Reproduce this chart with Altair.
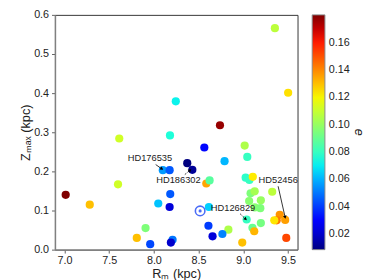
import altair as alt
import pandas as pd
import numpy as np
import math

# ---------------- data ----------------
R = [7.014, 7.283, 7.613, 7.599, 7.809, 7.907, 7.959, 8.049, 8.100, 8.176,
     8.183, 8.176, 8.209, 8.190, 8.245, 8.180, 8.564, 8.373, 8.430, 8.586,
     8.623, 8.739, 9.015, 9.044, 8.790, 9.026, 9.068, 9.106, 9.081, 9.127,
     9.323, 9.065, 9.196, 9.127, 9.190, 8.615, 9.037, 9.196, 9.102, 9.122,
     8.833, 8.610, 8.766, 8.656, 8.988, 9.480, 9.407, 9.373, 9.346, 9.468,
     9.353, 9.501]
Z = [0.140, 0.115, 0.284, 0.167, 0.030, 0.055, 0.014, 0.118, 0.203, 0.203,
     0.142, 0.109, 0.025, 0.018, 0.379, 0.292, 0.261, 0.221, 0.204, 0.169,
     0.177, 0.318, 0.266, 0.237, 0.226, 0.184, 0.178, 0.186, 0.144, 0.149,
     0.148, 0.124, 0.126, 0.108, 0.106, 0.109, 0.077, 0.068, 0.056, 0.047,
     0.051, 0.061, 0.040, 0.034, 0.018, 0.030, 0.089, 0.075, 0.075, 0.076,
     0.566, 0.401]
E = [0.1804, 0.130, 0.112, 0.112, 0.130, 0.095, 0.042, 0.063, 0.056, 0.045,
     0.045, 0.022, 0.050, 0.020, 0.071, 0.075, 0.031, 0.0086, 0.012, 0.135,
     0.087, 0.177, 0.105, 0.080, 0.061, 0.078, 0.080, 0.122, 0.095, 0.103,
     0.108, 0.097, 0.100, 0.097, 0.095, 0.065, 0.080, 0.093, 0.090, 0.132,
     0.105, 0.040, 0.052, 0.022, 0.130, 0.152, 0.138, 0.143, 0.123, 0.136,
     0.108, 0.124]

labels = ["HD176535", "HD186302", "HD126829", "HD52456"]
label_x = [7.708, 8.027, 8.637, 9.171]
label_y = [0.2336, 0.177, 0.106, 0.178]
arrow_x1 = [8.020, 8.346, 8.964, 9.389]
arrow_y1 = [0.2175, 0.192, 0.0917, 0.162]
arrow_x2 = [8.085, 8.400, 9.022, 9.466]
arrow_y2 = [0.207, 0.202, 0.079, 0.084]
arrow_dashed = [False, True, True, False]

sun_R = [8.517]
sun_Z = [0.099]

cbar_ticks = [0.02, 0.04, 0.06, 0.08, 0.10, 0.12, 0.14, 0.16]
x_ticks = [7.0, 7.5, 8.0, 8.5, 9.0, 9.5]
y_ticks = [0.0, 0.1, 0.2, 0.3, 0.4, 0.5, 0.6]

# ---------------- styling helpers ----------------
X_DOM = [6.894, 9.606]
Y_DOM = [0.0, 0.6]
W, H = 248, 240
E_MIN, E_MAX = 0.0086, 0.1804

stops = [0, 0.11, 0.125, 0.34, 0.35, 0.375, 0.64, 0.65, 0.66, 0.89, 0.91, 1.0]

def jet(t):
    r = np.interp(t, [0, 0.35, 0.66, 0.89, 1], [0, 0, 1, 1, 0.5])
    g = np.interp(t, [0, 0.125, 0.375, 0.64, 0.91, 1], [0, 0, 1, 1, 0, 0])
    b = np.interp(t, [0, 0.11, 0.34, 0.65, 1], [0.5, 1, 1, 0, 0])
    return "#%02x%02x%02x" % tuple(int(round(v * 255)) for v in (r, g, b))

c_dom = [E_MIN + s * (E_MAX - E_MIN) for s in stops]
c_rng = [jet(s) for s in stops]

df = pd.DataFrame({"R": R, "Z": Z, "e": E})

sx = W / (X_DOM[1] - X_DOM[0])
sy = H / (Y_DOM[1] - Y_DOM[0])
angles = []
for a, b, c, d in zip(arrow_x1, arrow_y1, arrow_x2, arrow_y2):
    dx = (c - a) * sx
    dy = -(d - b) * sy
    angles.append(math.degrees(math.atan2(dx, -dy)) % 360)

ann = pd.DataFrame({
    "label": labels, "lx": label_x, "ly": label_y,
    "x1": arrow_x1, "y1": arrow_y1, "x2": arrow_x2, "y2": arrow_y2,
    "dashed": arrow_dashed, "ang": angles,
})
sun = pd.DataFrame({"R": sun_R, "Z": sun_Z})

FONT = "Liberation Sans"

xs = alt.Scale(domain=X_DOM, nice=False, zero=False)
ys = alt.Scale(domain=Y_DOM, nice=False, zero=False)

points = alt.Chart(df).mark_circle(size=70, opacity=1).encode(
    x=alt.X("R:Q", scale=xs,
            axis=alt.Axis(values=x_ticks, format=".1f", title="Rₘ (kpc)",
                          titlePadding=2, labelPadding=2, tickSize=3.5,
                          tickCount=20, labelOverlap=False)),
    y=alt.Y("Z:Q", scale=ys,
            axis=alt.Axis(values=y_ticks, format=".1f", title="Zₘₐₓ (kpc)",
                          titleX=-23, labelPadding=3, tickSize=3.5,
                          tickCount=20, labelOverlap=False)),
    color=alt.Color("e:Q",
                    scale=alt.Scale(domain=c_dom, range=c_rng, interpolate="rgb"),
                    legend=alt.Legend(
                        orient="none", legendX=263, legendY=0,
                        direction="vertical",
                        gradientLength=H, gradientThickness=13,
                        gradientStrokeColor="#888", gradientStrokeWidth=1,
                        values=cbar_ticks, format=".2f", labelOverlap=False,
                        tickCount=20,
                        title="e", titleOrient="right", titleFontStyle="italic",
                        titleFontWeight="normal", titleFontSize=13, titleFont=FONT,
                        titlePadding=3, titleColor="#222",
                        labelFont=FONT, labelFontSize=11, labelColor="#222",
                        labelOffset=4)),
)

text = alt.Chart(ann).mark_text(
    align="left", baseline="middle", font=FONT, fontSize=9.5, color="#222"
).encode(x=alt.X("lx:Q", scale=xs), y=alt.Y("ly:Q", scale=ys), text="label:N")

shaft_solid = alt.Chart(ann).transform_filter("!datum.dashed").mark_rule(
    color="black", strokeWidth=0.8
).encode(x=alt.X("x1:Q", scale=xs), y=alt.Y("y1:Q", scale=ys), x2="x2:Q", y2="y2:Q")

shaft_dash = alt.Chart(ann).transform_filter("datum.dashed").mark_rule(
    color="black", strokeWidth=0.8, strokeDash=[2, 1.5]
).encode(x=alt.X("x1:Q", scale=xs), y=alt.Y("y1:Q", scale=ys), x2="x2:Q", y2="y2:Q")

heads = alt.Chart(ann).mark_point(
    shape="triangle", filled=True, size=14, color="black", opacity=1
).encode(x=alt.X("x2:Q", scale=xs), y=alt.Y("y2:Q", scale=ys),
         angle=alt.Angle("ang:Q", scale=None))

sun_ring = alt.Chart(sun).mark_point(
    shape="circle", filled=False, size=95, color="#4a6cf7", strokeWidth=1.6, opacity=1
).encode(x=alt.X("R:Q", scale=xs), y=alt.Y("Z:Q", scale=ys))

sun_dot = alt.Chart(sun).mark_circle(size=10, color="#4a6cf7", opacity=1).encode(
    x=alt.X("R:Q", scale=xs), y=alt.Y("Z:Q", scale=ys))

chart = alt.layer(points, sun_ring, sun_dot, shaft_solid, shaft_dash, heads, text).properties(
    width=W, height=H,
    autosize=alt.AutoSizeParams(type="none"),
    padding={"left": 48, "top": 4, "right": 70, "bottom": 28},
).configure_view(
    stroke="#333", strokeWidth=1
).configure_axis(
    grid=False, domainColor="#808080", domainWidth=1.5,
    tickColor="#606060", tickWidth=1,
    labelFont=FONT, labelFontSize=11, labelColor="#222",
    titleFont=FONT, titleFontSize=13, titleFontWeight="normal", titleColor="#222",
)

chart.save("out.html", embed_options={"renderer": "svg", "actions": False})
